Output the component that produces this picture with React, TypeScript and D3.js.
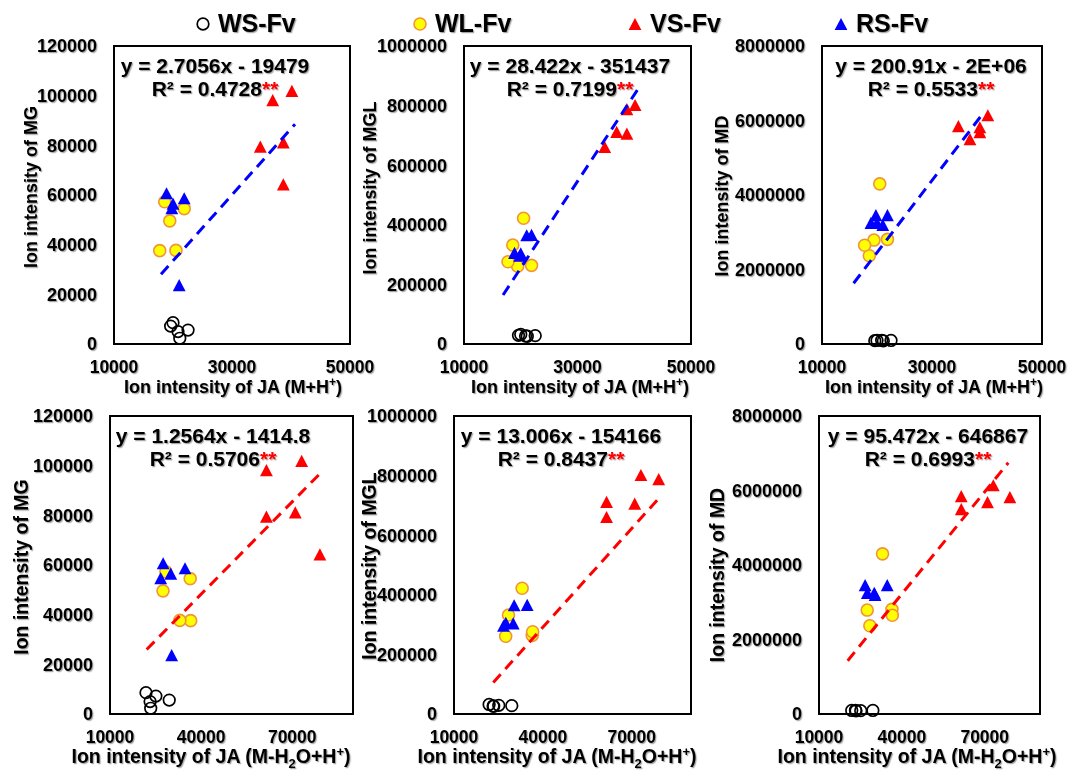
import React from "react";
import * as d3 from "d3";

// groups (legend order, also draw order)
const groups = ["WS-Fv", "WL-Fv", "VS-Fv", "RS-Fv"];
// 5 samples per group, same order in every value array below
const groupOf = [0, 0, 0, 0, 0, 1, 1, 1, 1, 1, 2, 2, 2, 2, 2, 3, 3, 3, 3, 3];

// JA ion intensities (x axes)
const jaMH = [
  20000, 19600, 20850, 21150, 22550,
  18600, 21900, 19450, 17750, 20500,
  34800, 36900, 38700, 38700, 40150,
  18900, 19800, 20000, 21900, 21050,
];
const jaMH2O = [
  21850, 25100, 23200, 23400, 29500,
  28400, 36400, 27450, 36550, 33000,
  61500, 61500, 71000, 79100, 73100,
  27500, 26700, 30000, 34700, 30300,
];

// y values
const mg = [
  8600, 7200, 5000, 2300, 5600,
  57300, 54500, 49600, 37600, 37700,
  79500, 98200, 81200, 64300, 101900,
  60700, 54700, 56500, 58700, 23700,
];
const mgl = [
  32000, 29000, 27000, 26000, 28000,
  332000, 264000, 261000, 276000, 422000,
  661000, 712000, 706000, 788000, 802000,
  306000, 296000, 304000, 366000, 365000,
];
const md = [
  95000, 90000, 100000, 85000, 95000,
  2370000, 2810000, 2790000, 2650000, 4300000,
  5850000, 5500000, 5690000, 5820000, 6140000,
  3250000, 3460000, 3250000, 3460000, 3200000,
];

const yNames = ["MG", "MGL", "MD"];
const yTicks = [
  [0, 20000, 40000, 60000, 80000, 100000, 120000],
  [0, 200000, 400000, 600000, 800000, 1000000],
  [0, 2000000, 4000000, 6000000, 8000000],
];
const xTicksTop = [10000, 30000, 50000];
const xTicksBottom = [10000, 40000, 70000];
const xMaxTop = 50000;
const xMaxBottom = 90000;

// trendline equations as printed, and the drawn line ends
const equations = [
  "y = 2.7056x - 19479",
  "y = 28.422x - 351437",
  "y = 200.91x - 2E+06",
  "y = 1.2564x - 1414.8",
  "y = 13.006x - 154166",
  "y = 95.472x - 646867",
];
const r2Values = ["0.4728", "0.7199", "0.5533", "0.5706", "0.8437", "0.6993"];
const trendX0 = [17970, 16880, 15750, 22080, 23270, 20390];
const trendX1 = [40680, 41010, 38910, 80020, 79870, 78530];
const trendY0 = [28070, 164300, 1630000, 26000, 106000, 1431000];
const trendY1 = [88480, 865800, 6120000, 97900, 732000, 6746000];

// layout
const boxes = [
  { x0: 114, x1: 350, y0: 46, y1: 344 },
  { x0: 464, x1: 691, y0: 46, y1: 344 },
  { x0: 822, x1: 1042, y0: 46, y1: 344 },
  { x0: 110, x1: 353, y0: 416, y1: 714 },
  { x0: 454, x1: 691, y0: 416, y1: 714 },
  { x0: 819, x1: 1040, y0: 416, y1: 714 },
];
const eqCenter = [215, 570, 931, 213, 561, 928];
const yTitlePos = [
  [31, 187], [370, 188], [722, 196],
  [21, 567], [369, 566], [717, 575],
];
const xTitleCenter = [233, 580, 934, 211, 557, 917];

const FONT = "'Liberation Sans', Arial, Helvetica, sans-serif";

const triangle = {
  draw(ctx: any, size: number) {
    const w = Math.sqrt(size);
    const h = w * 0.95;
    ctx.moveTo(0, -h / 2);
    ctx.lineTo(w / 2, h / 2);
    ctx.lineTo(-w / 2, h / 2);
    ctx.closePath();
  },
};
const triPath = d3.symbol(triangle, 12.8 * 12.8)() as string;

const Marker = ({ g, x, y }: { g: number; x: number; y: number }) => {
  if (g === 0)
    return <circle cx={x} cy={y} r={5.8} fill="none" stroke="#000" strokeWidth={1.7} />;
  if (g === 1)
    return <circle cx={x} cy={y} r={6} fill="#ffff00" stroke="#f0943a" strokeWidth={1.6} />;
  return (
    <path d={triPath} transform={`translate(${x},${y})`} fill={g === 2 ? "#ff0000" : "#0000ff"} />
  );
};

const Panel = ({ idx }: { idx: number }) => {
  const row = Math.floor(idx / 3);
  const col = idx % 3;
  const b = boxes[idx];
  const ticksY = yTicks[col];
  const x = d3
    .scaleLinear()
    .domain([10000, row === 0 ? xMaxTop : xMaxBottom])
    .range([b.x0, b.x1]);
  const y = d3
    .scaleLinear()
    .domain([0, ticksY[ticksY.length - 1]])
    .range([b.y1, b.y0]);
  const xv = row === 0 ? jaMH : jaMH2O;
  const yv = [mg, mgl, md][col];
  const xTicks = row === 0 ? xTicksTop : xTicksBottom;
  const line = d3
    .line<[number, number]>()
    .x((d) => x(d[0]))
    .y((d) => y(d[1]));
  const trend = line([
    [trendX0[idx], trendY0[idx]],
    [trendX1[idx], trendY1[idx]],
  ]) as string;
  const titleSize = row === 0 ? 18 : 19.5;
  const eqBase = row === 0 ? 73 : 443;
  const [tx, ty] = yTitlePos[idx];

  return (
    <g fontFamily={FONT} fontWeight="bold">
      <rect x={b.x0} y={b.y0} width={b.x1 - b.x0} height={b.y1 - b.y0} fill="#fff" stroke="#000" strokeWidth={2} />
      {groups.map((_, g) =>
        xv.map((v, i) =>
          groupOf[i] === g ? <Marker key={`${g}-${i}`} g={g} x={x(v)} y={y(yv[i])} /> : null
        )
      )}
      <path d={trend} fill="none" stroke={row === 0 ? "#0000ff" : "#ff0000"} strokeWidth={3} strokeDasharray="11,7" />
      <g filter="url(#shadow)">
        {ticksY.map((t) => (
          <text key={t} x={b.x0 - 17} y={y(t)} dy="0.36em" textAnchor="end" fontSize={18}>
            {t}
          </text>
        ))}
        {xTicks.map((t) => (
          <text key={t} x={x(t)} y={b.y1 + 29} textAnchor="middle" fontSize={17.5}>
            {t}
          </text>
        ))}
        <text x={eqCenter[idx]} y={eqBase} textAnchor="middle" fontSize={21}>
          {equations[idx]}
        </text>
        <text x={eqCenter[idx]} y={eqBase + 23} textAnchor="middle" fontSize={21}>
          {"R² = " + r2Values[idx]}
          <tspan fill="#ff0000">**</tspan>
        </text>
        <text
          transform={`translate(${tx + titleSize * 0.36},${ty}) rotate(-90)`}
          textAnchor="middle"
          fontSize={titleSize}
        >
          {"Ion intensity of " + yNames[col]}
        </text>
        {row === 0 ? (
          <text x={xTitleCenter[idx]} y={393} textAnchor="middle" fontSize={titleSize}>
            Ion intensity of JA (M+H
            <tspan dy={-7} fontSize={12}>+</tspan>
            <tspan dy={7}>)</tspan>
          </text>
        ) : (
          <text x={xTitleCenter[idx]} y={763} textAnchor="middle" fontSize={titleSize}>
            Ion intensity of JA (M-H
            <tspan dy={5} fontSize={13}>2</tspan>
            <tspan dy={-5}>O+H</tspan>
            <tspan dy={-7} fontSize={13}>+</tspan>
            <tspan dy={7}>)</tspan>
          </text>
        )}
      </g>
    </g>
  );
};

const legendX = [203, 420, 635, 841];

export default function App() {
  return (
    <svg
      width={1070}
      height={771}
      style={{ position: "absolute", left: 0, top: 0, background: "#fff" }}
    >
      <defs>
        <filter id="shadow" x="-10%" y="-10%" width="130%" height="140%">
          <feDropShadow dx={1.2} dy={1.2} stdDeviation={0.7} floodColor="#000" floodOpacity={0.35} />
        </filter>
      </defs>
      <rect width={1070} height={771} fill="#fff" />
      <g fontFamily={FONT} fontWeight="bold">
        {groups.map((name, g) => (
          <g key={name}>
            <Marker g={g} x={legendX[g]} y={24} />
            <text x={legendX[g] + 15} y={32} fontSize={25} filter="url(#shadow)">
              {name}
            </text>
          </g>
        ))}
      </g>
      {boxes.map((_, i) => (
        <Panel key={i} idx={i} />
      ))}
    </svg>
  );
}
